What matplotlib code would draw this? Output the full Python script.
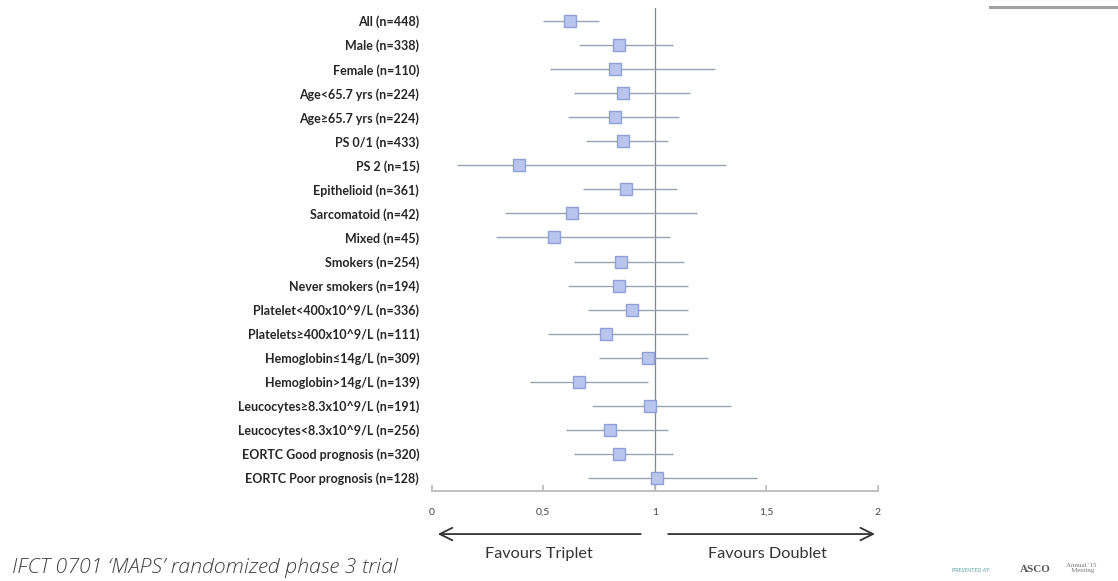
import numpy as np
import matplotlib
matplotlib.use("Agg")
import matplotlib.pyplot as plt

plt.rcParams['font.family'] = ['Lato', 'DejaVu Sans']

# subgroup labels, top to bottom
labels = [
    "All (n=448)", "Male (n=338)", "Female (n=110)",
    "Age<65.7 yrs (n=224)", "Age\u226565.7 yrs (n=224)",
    "PS 0/1 (n=433)", "PS 2 (n=15)",
    "Epithelioid (n=361)", "Sarcomatoid (n=42)", "Mixed (n=45)",
    "Smokers (n=254)", "Never smokers (n=194)",
    "Platelet<400x10^9/L (n=336)", "Platelets\u2265400x10^9/L (n=111)",
    "Hemoglobin\u226414g/L (n=309)", "Hemoglobin>14g/L (n=139)",
    "Leucocytes\u22658.3x10^9/L (n=191)", "Leucocytes<8.3x10^9/L (n=256)",
    "EORTC Good prognosis (n=320)", "EORTC Poor prognosis (n=128)",
]
# hazard ratio and 95% CI
hr = [0.62, 0.84, 0.82, 0.86, 0.82, 0.86, 0.39, 0.87, 0.63, 0.55,
      0.85, 0.84, 0.90, 0.78, 0.97, 0.66, 0.98, 0.80, 0.84, 1.01]
ci_lo = [0.50, 0.66, 0.53, 0.64, 0.61, 0.69, 0.115, 0.68, 0.33, 0.29,
         0.64, 0.61, 0.70, 0.52, 0.75, 0.44, 0.72, 0.60, 0.64, 0.70]
ci_hi = [0.75, 1.08, 1.27, 1.16, 1.11, 1.06, 1.32, 1.10, 1.19, 1.07,
         1.13, 1.15, 1.15, 1.15, 1.24, 0.97, 1.34, 1.06, 1.08, 1.46]
xticks = [0, 0.5, 1, 1.5, 2]
xtick_labels = ["0", "0,5", "1", "1,5", "2"]

W, H = 1118, 581
fig = plt.figure(figsize=(W / 100, H / 100), dpi=100)
fig.patch.set_facecolor("white")

ax = fig.add_axes([431.7 / W, (H - 491) / H, 446 / W, (491 - 8) / H])
y = np.arange(len(labels))

ax.hlines(y, ci_lo, ci_hi, color="#97a4ae", lw=1.0, zorder=2)
ax.plot(hr, y, ls="none", marker="s", ms=8, mfc="#b9c5ec",
        mec="#8fa0d8", mew=1.0, zorder=3)
ax.axvline(1, color="#7f8790", lw=0.9, zorder=1)

ax.set_xlim(0, 2)
ax.set_ylim(19.54, -0.54)
ax.set_yticks(y)
ax.set_yticklabels(labels, fontsize=9, color="#262626", fontweight="bold")
ax.tick_params(axis="y", length=0, pad=9)
ax.set_xticks(xticks)
ax.set_xticklabels(xtick_labels, fontsize=7.5, color="#444444")
ax.tick_params(axis="x", direction="in", length=4, color="#b8b8b8",
               width=1.2, pad=12)
for s in ["left", "right", "top"]:
    ax.spines[s].set_visible(False)
ax.spines["bottom"].set_color("#c0c0c0")
ax.spines["bottom"].set_linewidth(1.4)

# favour arrows below the axis
arrow_y = 21.33
ax.annotate("", xy=(0.015, arrow_y), xytext=(0.95, arrow_y),
            arrowprops=dict(arrowstyle="->,head_length=0.9,head_width=0.45",
                            color="#333333", lw=1.3),
            annotation_clip=False)
ax.annotate("", xy=(2.0, arrow_y), xytext=(1.048, arrow_y),
            arrowprops=dict(arrowstyle="->,head_length=0.9,head_width=0.45",
                            color="#333333", lw=1.3),
            annotation_clip=False)
ax.text(0.48, 22.15, "Favours Triplet", ha="center", va="center",
        fontsize=11.7, color="#333333", clip_on=False)
ax.text(1.505, 22.15, "Favours Doublet", ha="center", va="center",
        fontsize=11.7, color="#333333", clip_on=False)

# slide footer
fig.text(12 / W, 1 - 568 / H, "IFCT 0701 \u2018MAPS\u2019 randomized phase 3 trial",
         fontsize=15.4, style="italic", color="#404040", va="center",
         family=["Open Sans", "DejaVu Sans"], fontweight="light")
fig.text(952 / W, 1 - 570 / H, "PRESENTED AT:", fontsize=3.8,
         color="#5aa0a0", va="center")
fig.text(1020 / W, 1 - 570 / H, "ASCO", fontsize=8, color="#555555",
         va="center", family="Liberation Serif", fontweight="bold")
fig.text(1066 / W, 1 - 568 / H, "Annual '15\n   Meeting", fontsize=5,
         color="#777777", va="center", family="Liberation Serif",
         linespacing=0.9)
fig.add_artist(plt.Line2D([990 / W, 1], [1 - 7 / H, 1 - 7 / H],
                          color="#8a8a8a", lw=2.2, alpha=0.8))

fig.savefig("out.png", dpi=100, facecolor="white")
